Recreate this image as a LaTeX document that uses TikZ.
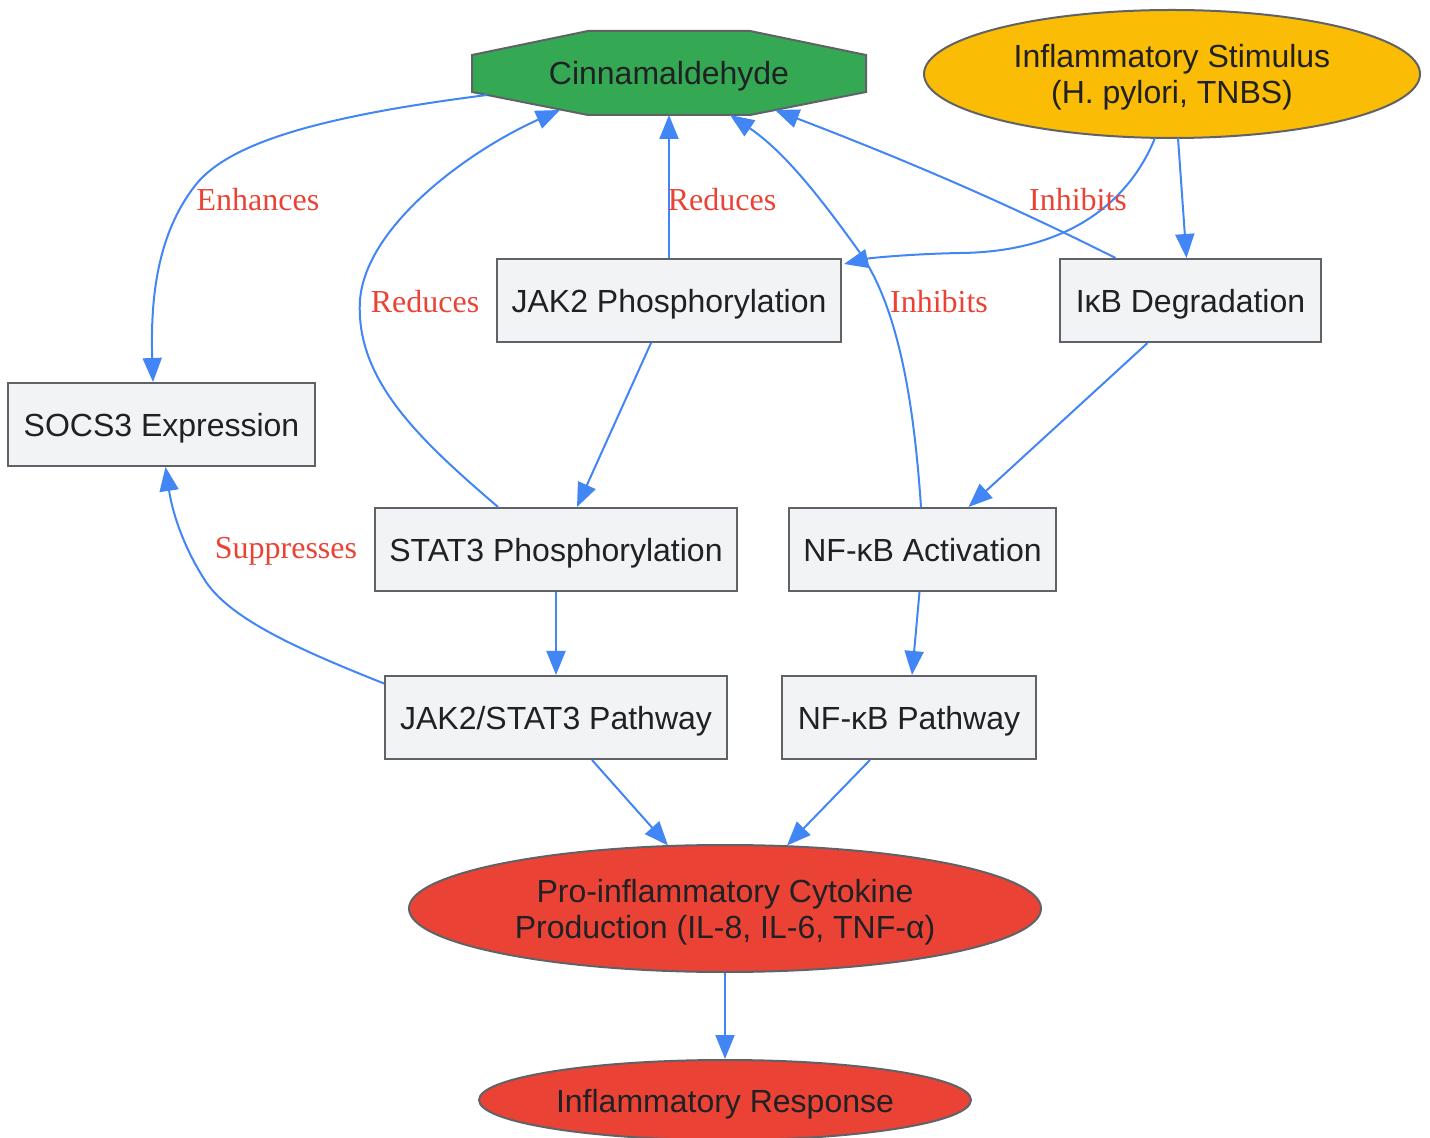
\documentclass[tikz,border=0pt]{standalone}
\usepackage{fontspec}
\setmainfont{Liberation Sans}
\newfontfamily\lblfont{Liberation Serif}
\usetikzlibrary{shapes.geometric,arrows.meta,calc}
\definecolor{cgreen}{HTML}{34A853}
\definecolor{cyellow}{HTML}{FBBC05}
\definecolor{cred}{HTML}{EA4335}
\definecolor{cbox}{HTML}{F1F3F4}
\definecolor{cborder}{HTML}{5F6368}
\definecolor{cedge}{HTML}{4285F4}
\definecolor{ctext}{HTML}{202124}
\tikzset{
  base/.style={font=\fontsize{16}{18}\selectfont, text=ctext, draw=cborder, line width=1pt, inner sep=0pt, align=center},
  oneline/.style={text height=12pt, text depth=0pt},
  twoline/.style={text height=30pt, text depth=0pt},
  procbox/.style={base, oneline, rectangle, fill=cbox, minimum height=41.5pt},
  ovalnode/.style={base, ellipse},
  edge/.style={draw=cedge, line width=1pt, -{Triangle[length=12pt,width=9.5pt]}},
  elabel/.style={font=\lblfont\fontsize{16}{19}\selectfont, text=cred, inner sep=0pt}
}
\begin{document}
\begin{tikzpicture}[x=0.5pt,y=-0.5pt]
\useasboundingbox (0,0) rectangle (1430,1138);
% Cinnamaldehyde octagon
\coordinate (cinc) at (669,73);
\draw[fill=cgreen, draw=cborder, line width=1pt]
  ($(cinc)+(-81,-42)$) -- ($(cinc)+(81,-42)$) -- ($(cinc)+(197,-18)$) -- ($(cinc)+(197,19)$)
  -- ($(cinc)+(81,42)$) -- ($(cinc)+(-81,42)$) -- ($(cinc)+(-197,19)$) -- ($(cinc)+(-197,-18)$) -- cycle;
\node[base, oneline, draw=none, minimum width=197pt, minimum height=42pt] (cin) at (cinc) {Cinnamaldehyde};

\node[ovalnode, twoline, fill=cyellow, minimum width=248pt, minimum height=64pt] (stim) at (1172,74) {Inflammatory Stimulus\\(H. pylori, TNBS)};
\node[procbox, minimum width=172pt] (jak) at (669,300.5) {JAK2 Phosphorylation};
\node[procbox, minimum width=130.5pt] (ikb) at (1190.5,300.5) {I\char"03BA B Degradation};
\node[procbox, minimum width=153.5pt] (socs) at (161.5,424.5) {SOCS3 Expression};
\node[procbox, minimum width=181pt] (stat) at (556,549.5) {STAT3 Phosphorylation};
\node[procbox, minimum width=133.5pt] (nfa) at (922.5,549.5) {NF-\char"03BA B Activation};
\node[procbox, minimum width=171pt] (jsp) at (556,717.5) {JAK2/STAT3 Pathway};
\node[procbox, minimum width=127pt] (nfp) at (909,717.5) {NF-\char"03BA B Pathway};
\node[ovalnode, twoline, fill=cred, minimum width=316pt, minimum height=63.5pt] (pro) at (725,908.5) {Pro-inflammatory Cytokine\\Production (IL-8, IL-6, TNF-\char"03B1)};
\node[ovalnode, oneline, fill=cred, minimum width=246pt, minimum height=40pt] (resp) at (725,1100) {Inflammatory Response};

% edges
\draw[edge] ($(cin.center)+(-182,22)$) .. controls (330,115) and (235,140) .. (198,182)
  .. controls (160,228) and (150,290) .. (socs.north -| 153,0);
\draw[edge] ($(stat.north)+(-58,0)$) .. controls (420,440) and (355,380) .. (360,300)
  .. controls (366,225) and (470,150) .. ($(cin.center)+(-109,37)$);
\draw[edge] (jak.north) -- ($(cin.center)+(0,42)$);
\draw[edge] ($(nfa.north)+(-1.5,0)$) .. controls (915,420) and (902,310) .. (858,250)
  .. controls (822,200) and (785,152) .. ($(cin.center)+(61,42)$);
\draw[edge] ($(ikb.north)+(-75,0)$) .. controls (1000,200) and (900,158) .. ($(cin.center)+(106,37)$);
\draw[edge] ($(stim.center)+(-17,64)$) .. controls (1130,200) and (1070,252) .. (960,253)
  .. controls (910,254) and (870,258) .. ($(jak.north east)+(2,6)$);
\draw[edge] ($(stim.center)+(6,64)$) -- ($(ikb.north)+(-4,0)$);
\draw[edge] ($(jak.south)+(-18,0)$) -- ($(stat.north)+(21,0)$);
\draw[edge] ($(ikb.south)+(-43,0)$) -- ($(nfa.north)+(46,0)$);
\draw[edge] (stat.south) -- (jsp.north);
\draw[edge] ($(nfa.south)+(-3,0)$) -- ($(nfp.north)+(3,0)$);
\draw[edge] ($(jsp.west)+(0,-34)$) .. controls (300,650) and (232,620) .. (206,582)
  .. controls (182,545) and (172,510) .. ($(socs.south)+(4,0)$);
\draw[edge] ($(jsp.south)+(36,0)$) -- ($(pro.center)+(-57,-63)$);
\draw[edge] ($(nfp.south)+(-39,0)$) -- ($(pro.center)+(62,-63)$);
\draw[edge] (pro.south) -- (resp.north);

% labels
\node[elabel] (l1) at (258,200) {Enhances};
\node[elabel] (l2) at (425,302) {Reduces};
\node[elabel] (l3) at (722,200) {Reduces};
\node[elabel] (l4) at (939,302) {Inhibits};
\node[elabel] (l5) at (1078,200) {Inhibits};
\node[elabel] (l6) at (286,551) {Suppresses};
\end{tikzpicture}
\end{document}
